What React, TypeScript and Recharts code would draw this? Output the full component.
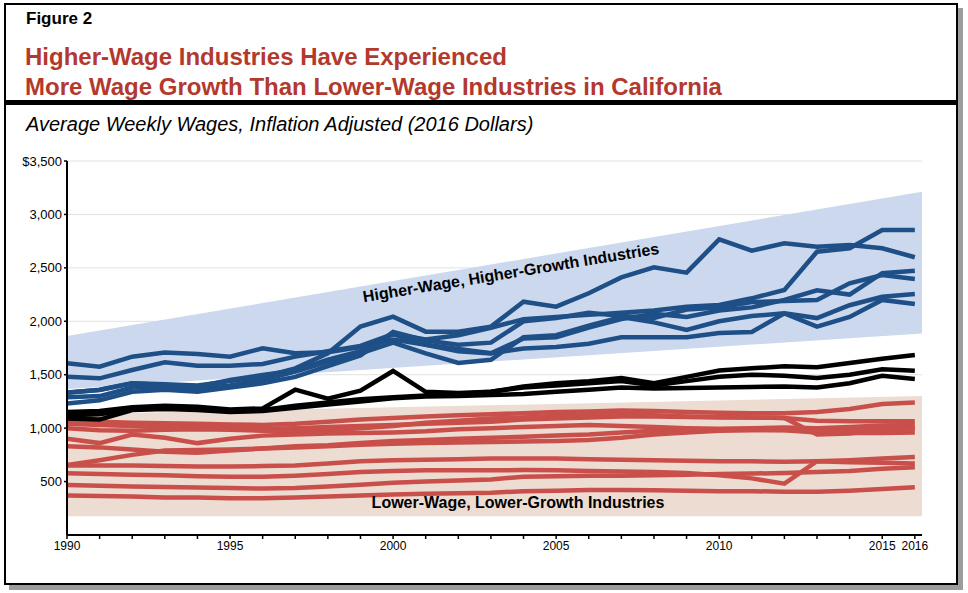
import React from 'react';
import { ComposedChart, Line, Area, XAxis, YAxis, CartesianGrid } from 'recharts';

const years = [
  1990, 1991, 1992, 1993, 1994, 1995, 1996, 1997, 1998, 1999, 2000, 2001, 2002, 2003,
  2004, 2005, 2006, 2007, 2008, 2009, 2010, 2011, 2012, 2013, 2014, 2015, 2016,
];
const labeledYears = [1990, 1995, 2000, 2005, 2010, 2015, 2016];
const yTicks = [500, 1000, 1500, 2000, 2500, 3000, 3500];

// higher-wage, higher-growth industries (blue)
const higher1 = [1607, 1575, 1669, 1707, 1694, 1669, 1747, 1700, 1710, 1760, 1830, 1780, 1740, 1700, 1745, 1760, 1790, 1850, 1850, 1850, 1890, 1900, 2074, 1950, 2040, 2200, 2162];
const higher2 = [1481, 1466, 1544, 1616, 1585, 1585, 1600, 1669, 1720, 1770, 1880, 1830, 1870, 1940, 2020, 2040, 2060, 2080, 2100, 2137, 2152, 2215, 2293, 2651, 2683, 2854, 2854];
const higher3 = [1330, 1360, 1420, 1410, 1400, 1440, 1480, 1560, 1700, 1950, 2043, 1903, 1903, 1950, 2183, 2137, 2262, 2411, 2505, 2455, 2767, 2661, 2730, 2698, 2714, 2683, 2599];
const higher4 = [1333, 1357, 1419, 1404, 1388, 1450, 1497, 1540, 1640, 1720, 1880, 1780, 1720, 1700, 1840, 1850, 1940, 2020, 2070, 2040, 2100, 2130, 2200, 2290, 2250, 2450, 2474];
const higher5 = [1290, 1300, 1380, 1390, 1370, 1400, 1450, 1530, 1620, 1700, 1800, 1700, 1610, 1640, 1850, 1870, 1960, 2040, 1990, 1920, 2000, 2050, 2074, 2030, 2150, 2230, 2255];
const higher6 = [1230, 1260, 1340, 1360, 1340, 1380, 1420, 1480, 1580, 1680, 1900, 1820, 1780, 1800, 2000, 2030, 2080, 2050, 2030, 2110, 2130, 2180, 2190, 2200, 2355, 2433, 2396];

// middle industries (black)
const middle1 = [1150, 1160, 1195, 1210, 1200, 1175, 1185, 1360, 1275, 1350, 1535, 1340, 1330, 1340, 1390, 1420, 1440, 1470, 1420, 1480, 1540, 1560, 1580, 1570, 1610, 1650, 1684];
const middle2 = [1120, 1130, 1180, 1190, 1180, 1160, 1170, 1210, 1240, 1270, 1290, 1305, 1320, 1340, 1380, 1400, 1420, 1440, 1400, 1440, 1480, 1500, 1490, 1470, 1500, 1550, 1538];
const middle3 = [1090, 1080, 1170, 1180, 1170, 1150, 1160, 1190, 1220, 1250, 1280, 1295, 1300, 1310, 1320, 1340, 1360, 1380, 1370, 1375, 1380, 1385, 1390, 1380, 1420, 1490, 1460];

// lower-wage, lower-growth industries (red)
const lower1 = [1070, 1060, 1050, 1045, 1040, 1035, 1030, 1040, 1060, 1080, 1095, 1110, 1120, 1130, 1140, 1150, 1155, 1165, 1160, 1150, 1145, 1140, 1140, 1150, 1180, 1225, 1240];
const lower2 = [1040, 1030, 1020, 1015, 1010, 1000, 995, 1000, 1010, 1020, 1030, 1040, 1050, 1060, 1080, 1090, 1100, 1110, 1110, 1105, 1100, 1100, 1095, 1070, 1065, 1065, 1065];
const lower3 = [1000, 980, 975, 985, 990, 985, 975, 970, 980, 1000, 1020, 1050, 1070, 1090, 1100, 1115, 1120, 1130, 1120, 1110, 1105, 1100, 1095, 940, 950, 990, 1000];
const lower4 = [900, 860, 940, 910, 860, 900, 930, 940, 950, 955, 960, 970, 990, 1000, 1010, 1020, 1030, 1020, 1010, 1000, 995, 1000, 1005, 1000, 1010, 1025, 1030];
const lower5 = [830, 820, 800, 780, 770, 790, 810, 830, 840, 860, 880, 890, 900, 910, 920, 930, 940, 960, 975, 980, 985, 985, 980, 960, 955, 955, 960];
const lower6 = [655, 700, 750, 790, 795, 800, 810, 820, 830, 845, 855, 860, 865, 870, 875, 880, 890, 910, 940, 960, 975, 980, 985, 970, 975, 990, 1000];
const lower7 = [650, 650, 650, 645, 640, 640, 645, 650, 670, 690, 700, 705, 710, 715, 717, 715, 710, 705, 700, 695, 690, 690, 685, 690, 700, 715, 730];
const lower8 = [577, 570, 565, 560, 550, 545, 545, 555, 570, 590, 600, 605, 605, 605, 608, 605, 600, 595, 590, 580, 560, 530, 480, 690, 680, 675, 670];
const lower9 = [468, 460, 455, 450, 445, 440, 435, 440, 455, 470, 490, 500, 510, 520, 546, 550, 555, 555, 560, 565, 570, 575, 580, 590, 600, 620, 634];
const lower10 = [370, 365, 360, 350, 350, 345, 345, 350, 360, 370, 380, 385, 390, 395, 410, 415, 420, 420, 418, 415, 410, 410, 405, 405, 415, 430, 446];

// shaded bands: [low, high] at the left and right edge
const bandYears = [1990, 2016.22];
const blueBandLow = [1366, 1885];
const blueBandHigh = [1862, 3212];
const redBandLow = [175, 175];
const redBandHigh = [1130, 1300];

const higherSeries = [higher1, higher2, higher3, higher4, higher5, higher6];
const middleSeries = [middle1, middle2, middle3];
const lowerSeries = [lower1, lower2, lower3, lower4, lower5, lower6, lower7, lower8, lower9, lower10];

const rows = years.map((year, i) => {
  const row: Record<string, number> = { year };
  higherSeries.forEach((s, j) => (row['h' + j] = s[i]));
  middleSeries.forEach((s, j) => (row['m' + j] = s[i]));
  lowerSeries.forEach((s, j) => (row['l' + j] = s[i]));
  return row;
});

const blueBand = bandYears.map((year, i) => ({ year, range: [blueBandLow[i], blueBandHigh[i]] }));
const redBand = bandYears.map((year, i) => ({ year, range: [redBandLow[i], redBandHigh[i]] }));

const font = '"Liberation Sans", Arial, Helvetica, sans-serif';

export default function App() {
  return (
    <div style={{ position: 'absolute', left: 0, top: 0, width: 968, height: 593, background: '#fff', fontFamily: font }}>
      <div
        style={{
          position: 'absolute',
          left: 4,
          top: 3,
          width: 950,
          height: 578,
          border: '2px solid #000',
          boxShadow: '5px 5px 0 #9c9c9c',
        }}
      />
      <div style={{ position: 'absolute', left: 26, top: 9, fontSize: 17, fontWeight: 'bold', color: '#000' }}>
        Figure 2
      </div>
      <div
        style={{
          position: 'absolute',
          left: 25,
          top: 42,
          fontSize: 24,
          fontWeight: 'bold',
          color: '#b3392e',
          lineHeight: '30px',
        }}
      >
        Higher-Wage Industries Have Experienced
        <br />
        More Wage Growth Than Lower-Wage Industries in California
      </div>
      <div style={{ position: 'absolute', left: 6, top: 100, width: 950, height: 5, background: '#000' }} />
      <div style={{ position: 'absolute', left: 26, top: 113, fontSize: 20, fontStyle: 'italic', color: '#000' }}>
        Average Weekly Wages, Inflation Adjusted (2016 Dollars)
      </div>

      <div style={{ position: 'absolute', left: 0, top: 140 }}>
        <ComposedChart width={968} height={430} data={rows} margin={{ top: 21, right: 46, left: 10, bottom: 10 }}>
          <CartesianGrid vertical={false} stroke="#e2e2e2" strokeWidth={1} />
          <XAxis
            dataKey="year"
            type="number"
            domain={[1990, 2016.22]}
            ticks={years}
            interval={0}
            tickFormatter={(v: number) => (labeledYears.includes(v) ? String(v) : '')}
            tick={{ fill: '#000', fontSize: 12, fontFamily: font }}
            tickSize={4}
            tickLine={{ stroke: '#000', strokeWidth: 1.5 }}
            axisLine={{ stroke: '#000', strokeWidth: 2 }}
            height={25}
            allowDataOverflow
          />
          <YAxis
            type="number"
            domain={[0, 3500]}
            ticks={yTicks}
            tickFormatter={(v: number) => (v === 3500 ? '$3,500' : v.toLocaleString('en-US'))}
            tick={{ fill: '#000', fontSize: 13, fontFamily: font }}
            tickSize={3}
            tickLine={{ stroke: '#000', strokeWidth: 1.5 }}
            axisLine={{ stroke: '#000', strokeWidth: 2 }}
            width={57}
          />
          <Area data={blueBand} dataKey="range" type="linear" fill="#cbd8ee" fillOpacity={1} stroke="none" isAnimationActive={false} />
          <Area data={redBand} dataKey="range" type="linear" fill="#eddcd2" fillOpacity={1} stroke="none" isAnimationActive={false} />
          {lowerSeries.map((_, j) => (
            <Line key={'l' + j} dataKey={'l' + j} type="linear" stroke="#c94f4b" strokeWidth={4.5} dot={false} isAnimationActive={false} />
          ))}
          {higherSeries.map((_, j) => (
            <Line key={'h' + j} dataKey={'h' + j} type="linear" stroke="#1e4f86" strokeWidth={4.5} dot={false} isAnimationActive={false} />
          ))}
          {middleSeries.map((_, j) => (
            <Line key={'m' + j} dataKey={'m' + j} type="linear" stroke="#000" strokeWidth={4.5} dot={false} isAnimationActive={false} />
          ))}
        </ComposedChart>
      </div>

      <div
        style={{
          position: 'absolute',
          left: 511,
          top: 273,
          transform: 'translate(-50%, -50%) rotate(-9.3deg)',
          fontSize: 16,
          fontWeight: 'bold',
          whiteSpace: 'nowrap',
          color: '#000',
        }}
      >
        Higher-Wage, Higher-Growth Industries
      </div>
      <div
        style={{
          position: 'absolute',
          left: 518,
          top: 503,
          transform: 'translate(-50%, -50%)',
          fontSize: 16,
          fontWeight: 'bold',
          whiteSpace: 'nowrap',
          color: '#000',
        }}
      >
        Lower-Wage, Lower-Growth Industries
      </div>
    </div>
  );
}
